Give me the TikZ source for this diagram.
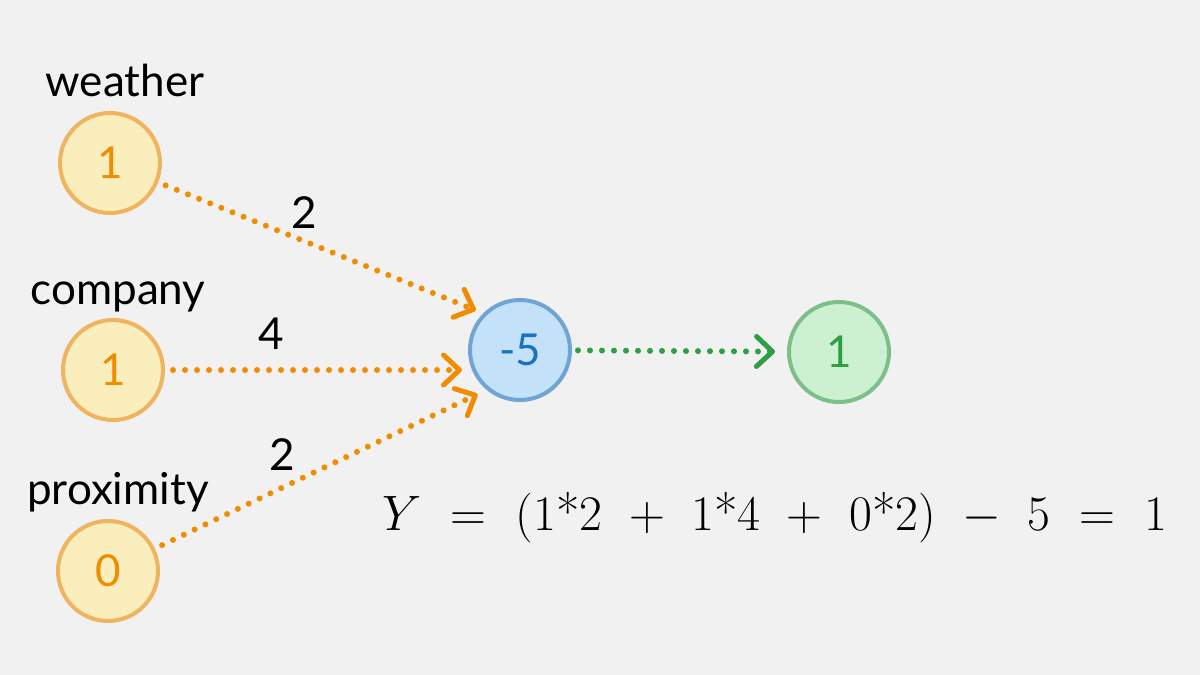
\documentclass[tikz,border=0pt]{standalone}
\usepackage{fontspec}
\newfontfamily\handfont{Lato}
\usetikzlibrary{arrows.meta}
\definecolor{bgcol}{HTML}{F1F1F1}
\definecolor{inpfill}{HTML}{F9EEBC}
\definecolor{inpline}{HTML}{F0B460}
\definecolor{inptext}{HTML}{F08C00}
\definecolor{biasfill}{HTML}{C3E2F9}
\definecolor{biasline}{HTML}{6FA4D4}
\definecolor{biastext}{HTML}{1971C2}
\definecolor{outfill}{HTML}{CBF1D0}
\definecolor{outline}{HTML}{7CBF89}
\definecolor{outtext}{HTML}{2F9E44}
\begin{document}
\begin{tikzpicture}[x=0.5pt, y=-0.5pt,
  every node/.style={font=\handfont\fontsize{22}{26}\selectfont},
  neuron/.style={circle, line width=2pt, minimum size=50pt, inner sep=0pt},
  inp/.style={neuron, draw=inpline, fill=inpfill, text=inptext},
  wire/.style={dash pattern=on 0pt off 6pt, line width=3pt, line cap=round,
    -{Straight Barb[length=8pt, width=15pt, line width=2.5pt, round]}}]
\fill[bgcol] (0,0) rectangle (1200,675);
\node[inp] (w) at (110,163) {1};
\node[inp] (c) at (113,370) {1};
\node[inp] (p) at (108,571) {0};
\node[neuron, draw=biasline, fill=biasfill, text=biastext] (b) at (520,350) {-5};
\node[neuron, draw=outline, fill=outfill, text=outtext] (o) at (839,352) {1};
\node (lw) at (125,80) {weather};
\node (lc) at (118,297) {company};
\node (lp) at (118,492) {proximity};
\draw[wire, inptext, shorten <=4pt, shorten >=4pt] (w) -- (b.135) node[pos=0.45, above=1.5pt, text=black] (e1) {2};
\draw[wire, inptext, shorten <=4pt, shorten >=3pt] (c) -- (c -| b.west) node[pos=0.35, above=5.5pt, text=black] (e2) {4};
\draw[wire, inptext, shorten <=4pt, shorten >=5pt] (p) -- (b.230) node[pos=0.385, above=3.5pt, text=black] (e3) {2};
\draw[wire, outtext, shorten <=3pt, shorten >=6pt] (b) -- (o);
\node[font=\fontsize{25.5}{30}\selectfont] (eq) at (775,518)
  {$Y \ = \ (1\mbox{*}2 \ + \ 1\mbox{*}4 \ + \ 0\mbox{*}2) \ - \ 5 \ = \ 1$};
\end{tikzpicture}
\end{document}
